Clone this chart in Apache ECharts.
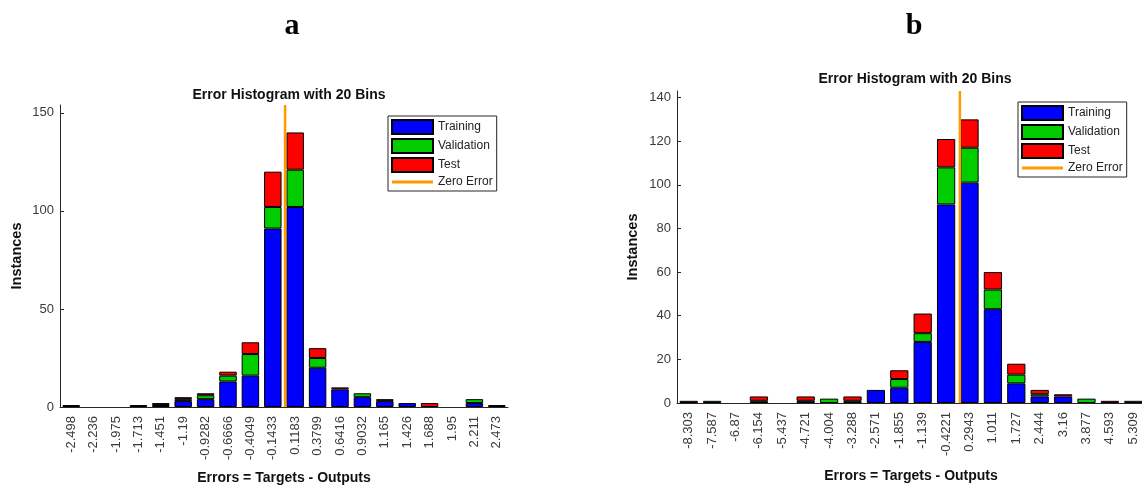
<!DOCTYPE html>
<html>
<head>
<meta charset="utf-8">
<script src="https://cdn.jsdelivr.net/npm/echarts@6/dist/echarts.min.js"></script>
<style>html,body{margin:0;padding:0;background:#fff;}#c{width:1142px;height:488px;}</style>
</head>
<body>
<div id="c"></div>
<script>
// ---- data: panel a ----
const binsA = ['-2.498','-2.236','-1.975','-1.713','-1.451','-1.19','-0.9282','-0.6666','-0.4049','-0.1433','0.1183','0.3799','0.6416','0.9032','1.165','1.426','1.688','1.95','2.211','2.473'];
const trainA = [1,0,0,1,1,3,4,13,16,91,102,20,9,5,3,2,0,0,2,1];
const valA   = [0,0,0,0,1,1,2,3,11,11,19,5,0,2,0,0,0,0,2,0];
const testA  = [0,0,0,0,0,1,1,2,6,18,19,5,1,0,1,0,2,0,0,0];
// ---- data: panel b ----
const binsB = ['-8.303','-7.587','-6.87','-6.154','-5.437','-4.721','-4.004','-3.288','-2.571','-1.855','-1.139','-0.4221','0.2943','1.011','1.727','2.444','3.16','3.877','4.593','5.309'];
const trainB = [0,0,0,0,0,1,0,0,6,7,28,91,101,43,9,3,3,0,0,0];
const valB   = [0,1,0,1,0,0,2,1,0,4,4,17,16,9,4,1,0,2,0,1];
const testB  = [1,0,0,2,0,2,0,2,0,4,9,13,13,8,5,2,1,0,1,0];
const zeroError = 0;
const yTicksA = 50, yTicksB = 20;

const FONT = 'Liberation Sans, Arial, sans-serif';
const AX = '#262626';
const nz = a => a.map(v => v === 0 ? null : v);
const totals = (a,b,c) => a.map((v,i)=>v+b[i]+c[i]);
const yMaxA = Math.max(...totals(trainA,valA,testA)) * 1.1;
const yMaxB = Math.max(...totals(trainB,valB,testB)) * 1.1;
function binRange(bins){
  const f = parseFloat(bins[0]), l = parseFloat(bins[bins.length-1]);
  const w = (l - f) / (bins.length - 1);
  return [f - w/2, l + w/2];
}
const rA = binRange(binsA), rB = binRange(binsB);

function catAxis(grid, bins){
  return {type:'category', gridIndex:grid, data:bins,
    axisLine:{onZero:false, lineStyle:{color:AX,width:1}},
    axisTick:{inside:true, alignWithLabel:true, length:4, lineStyle:{color:AX}},
    axisLabel:{rotate:90, fontSize:13, color:'#3a3a3a', fontFamily:FONT, margin:9, interval:0},
    name:'Errors = Targets - Outputs', nameLocation:'middle', nameGap:grid===0?64:66, nameMoveOverlap:false,
    nameTextStyle:{fontSize:14, fontWeight:'bold', color:'#111', fontFamily:FONT}};
}
function valAxis(grid, r){
  return {type:'value', gridIndex:grid, min:r[0], max:r[1], show:false};
}
function yAxis(grid, max, iv){
  return {type:'value', gridIndex:grid, min:0, max:max, interval:iv,
    axisLine:{show:true, onZero:false, lineStyle:{color:AX,width:1}},
    axisTick:{show:true, inside:true, length:4, lineStyle:{color:AX}},
    splitLine:{show:false},
    axisLabel:{showMaxLabel:false, fontSize:13, color:'#3a3a3a', fontFamily:FONT, margin:6},
    name:'Instances', nameLocation:'middle', nameGap:grid===0?36:37, nameMoveOverlap:false,
    nameTextStyle:{fontSize:14.5, fontWeight:'bold', color:'#111', fontFamily:FONT}};
}
function barSeries(name, color, data, xi, yi, stack){
  return {type:'bar', name:name, stack:stack, xAxisIndex:xi, yAxisIndex:yi, data:nz(data),
    barCategoryGap:'22%', itemStyle:{color:color, borderColor:'#000', borderWidth:1}};
}
function zeroSeries(xi, yi, ymax){
  return {type:'line', name:'Zero Error', xAxisIndex:xi, yAxisIndex:yi, symbol:'none', showSymbol:false, z:5,
    data:[[zeroError,0],[zeroError,ymax]], lineStyle:{color:'#ff9a00', width:2.5}, itemStyle:{color:'#ff9a00'}};
}
function legend(left, top){
  return {left:left, top:top, orient:'vertical', itemWidth:41, itemHeight:14, itemGap:3,
    padding:[3,4,3,3], borderColor:AX, borderWidth:1, backgroundColor:'#fff',
    textStyle:{fontSize:12, color:'#222', fontFamily:FONT},
    data:[{name:'Training',icon:'rect'},{name:'Validation',icon:'rect'},{name:'Test',icon:'rect'},
          {name:'Zero Error',icon:'path://M0,0L41,0L41,3L0,3Z', itemStyle:{color:'#ff9a00', borderWidth:0}}]};
}

const chart = echarts.init(document.getElementById('c'), null, {renderer:'canvas'});
chart.setOption({
  animation:false,
  backgroundColor:'#fff',
  title:[
    {text:'a', left:287, top:6, textAlign:'center', textStyle:{fontFamily:'Liberation Serif, Times New Roman, serif', fontWeight:'bold', fontSize:30, color:'#000'}},
    {text:'b', left:909, top:6, textAlign:'center', textStyle:{fontFamily:'Liberation Serif, Times New Roman, serif', fontWeight:'bold', fontSize:30, color:'#000'}},
    {text:'Error Histogram with 20 Bins', left:284, top:83, textAlign:'center', textStyle:{fontFamily:FONT, fontWeight:'bold', fontSize:14, color:'#111'}},
    {text:'Error Histogram with 20 Bins', left:910, top:67, textAlign:'center', textStyle:{fontFamily:FONT, fontWeight:'bold', fontSize:14, color:'#111'}}
  ],
  legend:[legend(388,116), legend(1018,102)],
  grid:[
    {left:60, top:105, width:448, height:302, containLabel:false, outerBoundsMode:'none'},
    {left:677, top:91, width:468, height:312, containLabel:false, outerBoundsMode:'none'}
  ],
  xAxis:[catAxis(0,binsA), valAxis(0,rA), catAxis(1,binsB), valAxis(1,rB)],
  yAxis:[yAxis(0,yMaxA,yTicksA), yAxis(1,yMaxB,yTicksB)],
  series:[
    barSeries('Training','#0000ff',trainA,0,0,'a'),
    barSeries('Validation','#00cc00',valA,0,0,'a'),
    barSeries('Test','#ff0000',testA,0,0,'a'),
    zeroSeries(1,0,yMaxA),
    barSeries('Training','#0000ff',trainB,2,1,'b'),
    barSeries('Validation','#00cc00',valB,2,1,'b'),
    barSeries('Test','#ff0000',testB,2,1,'b'),
    zeroSeries(3,1,yMaxB)
  ]
});
</script>
</body>
</html>
